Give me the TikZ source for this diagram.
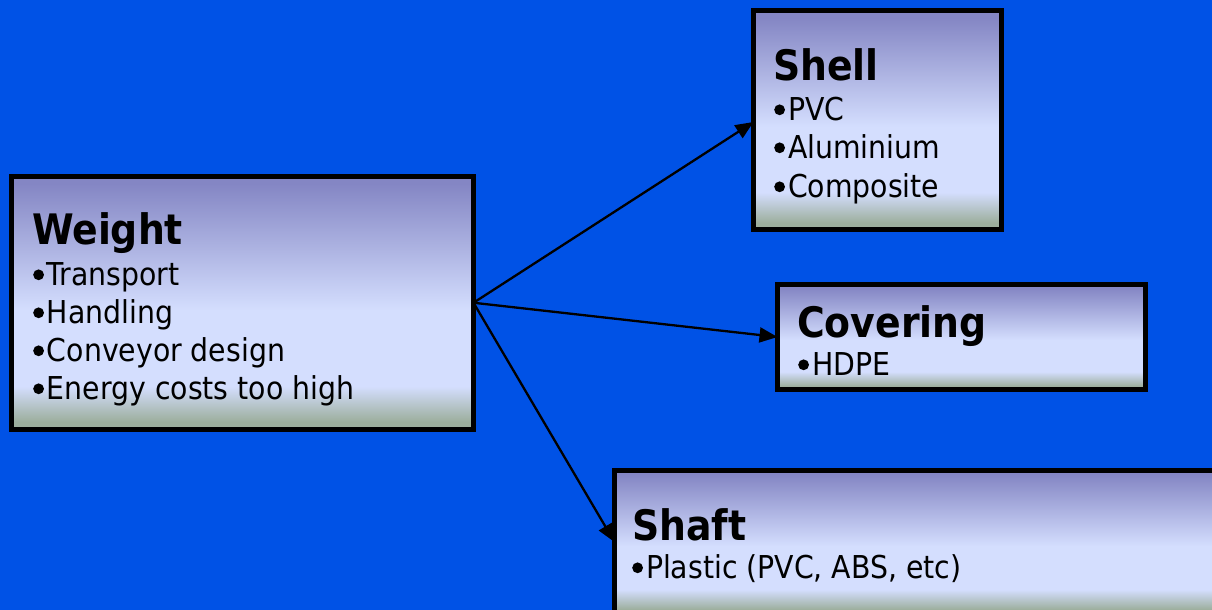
\documentclass[tikz,border=0pt]{standalone}
\usepackage{fontspec}
\setmainfont{DejaVu Sans Condensed}
\usetikzlibrary{arrows.meta}
\definecolor{bgblue}{HTML}{0052E6}
\definecolor{boxtop}{HTML}{8486C4}
\definecolor{boxlight}{HTML}{D4DEFE}
\definecolor{boxbot}{HTML}{9CAE9C}
\pgfdeclareverticalshading{boxshade}{100bp}{color(0bp)=(boxbot); color(26.5bp)=(boxbot); color(33.5bp)=(boxlight); color(48.5bp)=(boxlight); color(73.5bp)=(boxtop); color(100bp)=(boxtop)}
\newcommand\bul{\tikz[baseline=0pt]\fill (5.4pt,10.2pt) circle[radius=5.4pt];\hspace{3pt}}
\tikzset{
  box/.style={draw=black, line width=5pt, shading=boxshade, anchor=center, inner sep=0pt, outer sep=0pt},
  ttl/.style={anchor=base west, inner sep=0pt, font=\fontsize{42}{42}\selectfont\bfseries},
  itm/.style={anchor=base west, inner sep=0pt, font=\fontsize{31.5}{38}\selectfont},
  conn/.style={line width=2.3pt, -{Triangle[length=18pt,width=15pt]}}
}
\begin{document}
\begin{tikzpicture}[x=1pt,y=-1pt]
\useasboundingbox (0,0) rectangle (1212,610);
\clip (0,0) rectangle (1212,610);
\fill[bgblue] (0,0) rectangle (1212,610);
% boxes
\node[box, minimum width=462pt, minimum height=253.5pt] (weight) at (242.5,302.75) {};
\node[box, minimum width=248pt, minimum height=218.5pt] (shell) at (877.5,120.25) {};
\node[box, minimum width=368pt, minimum height=105pt] (covering) at (961.5,337) {};
\node[box, minimum width=620pt, minimum height=144pt] (shaft) at (924.5,542) {};
% texts
\node[ttl] (wt) at (32,244) {Weight};
\node[itm] (w1) at (33,285) {\bul Transport};
\node[itm] (w2) at (33,323) {\bul Handling};
\node[itm] (w3) at (33,361) {\bul Conveyor design};
\node[itm] (w4) at (33,399) {\bul Energy costs too high};
\node[ttl] (st) at (773,80) {Shell};
\node[itm] (s1) at (774,120) {\bul PVC};
\node[itm] (s2) at (774,158) {\bul Aluminium};
\node[itm] (s3) at (774,197) {\bul Composite};
\node[ttl] (ct) at (797,337) {Covering};
\node[itm] (c1) at (798,375) {\bul HDPE};
\node[ttl] (sht) at (632,540) {Shaft};
\node[itm] (sh1) at (632,578) {\bul Plastic (PVC, ABS, etc)};
% connectors
\draw[conn] (weight.east) -- (shell.west |- 0,122);
\draw[conn] (weight.east) -- (covering.west);
\draw[conn] (weight.east) -- (shaft.west);
\end{tikzpicture}
\end{document}
